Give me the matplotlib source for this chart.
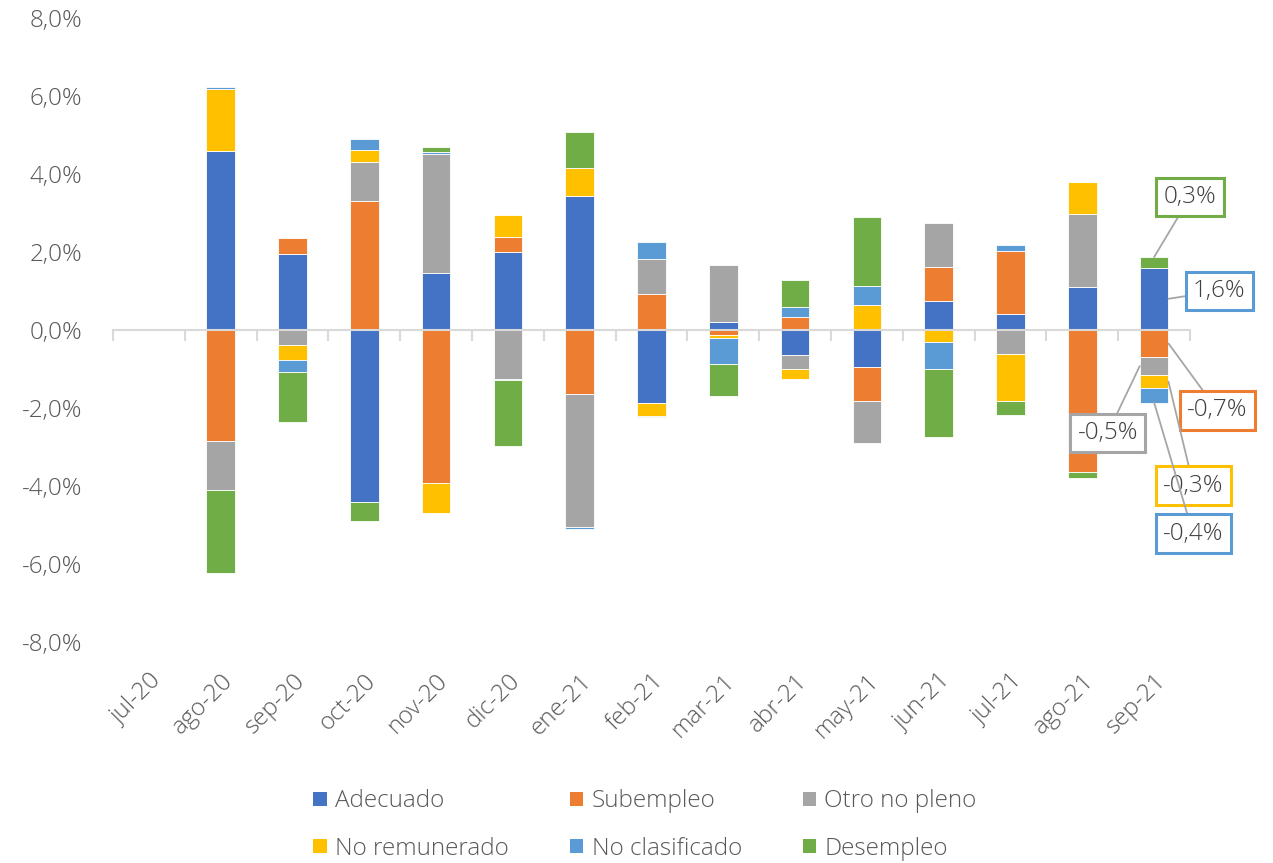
import matplotlib
matplotlib.use("Agg")
import matplotlib.pyplot as plt
import matplotlib.transforms as mtransforms
from matplotlib.patches import Patch
from matplotlib.ticker import FuncFormatter, FixedLocator
import numpy as np

# categories (months)
meses = ["jul-20", "ago-20", "sep-20", "oct-20", "nov-20", "dic-20", "ene-21",
         "feb-21", "mar-21", "abr-21", "may-21", "jun-21", "jul-21", "ago-21", "sep-21"]

# contributions in percentage points
adecuado = [0.00, 4.60, 1.94, -4.42, 1.45, 2.01, 3.44, -1.88, 0.20, -0.64, -0.95, 0.75, 0.41, 1.09, 1.60]
subempleo = [0.00, -2.85, 0.42, 3.30, -3.92, 0.38, -1.64, 0.92, -0.13, 0.34, -0.87, 0.86, 1.61, -3.65, -0.69]
otro_no_pleno = [0.00, -1.26, -0.38, 1.00, 3.05, -1.26, -3.42, 0.90, 1.47, -0.36, -1.07, 1.14, -0.62, 1.89, -0.47]
no_remunerado = [0.00, 1.57, -0.40, 0.31, -0.76, 0.55, 0.72, -0.32, -0.08, -0.26, 0.65, -0.30, -1.21, 0.82, -0.33]
no_clasificado = [0.00, 0.07, -0.30, 0.28, 0.06, -0.03, -0.04, 0.43, -0.67, 0.25, 0.48, -0.69, 0.15, 0.00, -0.37]
desempleo = [0.00, -2.13, -1.28, -0.48, 0.13, -1.69, 0.92, -0.04, -0.80, 0.68, 1.77, -1.75, -0.36, -0.15, 0.27]

series_names = ["Adecuado", "Subempleo", "Otro no pleno", "No remunerado", "No clasificado", "Desempleo"]
series_values = [adecuado, subempleo, otro_no_pleno, no_remunerado, no_clasificado, desempleo]
colores = ["#4472C4", "#ED7D31", "#A5A5A5", "#FFC000", "#5B9BD5", "#70AD47"]

# labelled month (last one) and offsets of its label boxes in pixels
# (series index, x side of the bar, y anchor, offset, box colour)
etiquetas = [
    (5, 0.0, "end", (36, 60), "#70AD47"),
    (0, 0.2, "mid", (51, 8), "#5B9BD5"),
    (1, 0.2, "mid", (49, -67), "#ED7D31"),
    (2, -0.2, "mid", (-32, -67), "#A5A5A5"),
    (3, 0.2, "mid", (25, -104), "#FFC000"),
    (4, 0.0, "end", (39, -131), "#5B9BD5"),
]

FONT = "Open Sans"
TEXT_GRAY = "#595959"


def pct(v):
    return f"{v:.1f}%".replace(".", ",")


def main():
    plt.rcParams["font.family"] = [FONT, "DejaVu Sans"]
    plt.rcParams["font.weight"] = 300

    fig = plt.figure(figsize=(12.73, 8.63), dpi=100)
    ax = fig.add_axes([113 / 1273, 1 - 642 / 863, 1077 / 1273, 624 / 863])

    x = np.arange(len(meses))
    pos_base = np.zeros(len(meses))
    neg_base = np.zeros(len(meses))
    bottoms = []

    # stacked bars: positives go up, negatives go down
    for vals, name, col in zip(series_values, series_names, colores):
        vals = np.array(vals)
        base = np.where(vals >= 0, pos_base, neg_base)
        ax.bar(x, vals, bottom=base, width=0.4, color=col, edgecolor="white",
               linewidth=0.6, label=name, zorder=1)
        bottoms.append(base)
        pos_base = pos_base + np.where(vals > 0, vals, 0)
        neg_base = neg_base + np.where(vals < 0, vals, 0)

    ax.set_xlim(-0.5, len(meses) - 0.5)
    ax.set_ylim(-8, 8)

    # y axis: labels only
    ax.set_yticks(np.arange(-8, 8.1, 2))
    ax.yaxis.set_major_formatter(FuncFormatter(lambda v, p: pct(v)))
    ax.tick_params(axis="y", length=0, pad=22, labelsize=17.5, labelcolor=TEXT_GRAY)
    for s in ["left", "right", "top"]:
        ax.spines[s].set_visible(False)

    # category axis crossing at zero with ticks between categories
    ax.spines["bottom"].set_position(("data", 0))
    ax.spines["bottom"].set_color("#D9D9D9")
    ax.spines["bottom"].set_linewidth(1.5)
    ax.xaxis.set_major_locator(FixedLocator(np.arange(-0.5, len(meses), 1.0)))
    ax.xaxis.set_major_formatter(FuncFormatter(lambda v, p: ""))
    ax.tick_params(axis="x", direction="out", length=8, width=1.5, color="#D9D9D9")

    # category labels at the bottom of the plot area
    offset = mtransforms.ScaledTranslation(0 / 100, -27 / 100, fig.dpi_scale_trans)
    trans = mtransforms.blended_transform_factory(ax.transData, ax.transAxes) + offset
    for i, m in enumerate(meses):
        ax.text(i, 0, m, transform=trans, rotation=45, ha="right", va="top",
                rotation_mode="anchor", fontsize=17.5, color=TEXT_GRAY)

    # data labels for the last month
    last = len(meses) - 1
    for idx, dx, where, off, ec in etiquetas:
        v = series_values[idx][last]
        b = bottoms[idx][last]
        yy = b + v if where == "end" else b + v / 2
        ax.annotate(pct(v), xy=(last + dx, yy), xytext=off, textcoords="offset pixels",
                    ha="center", va="center", fontsize=17.5, color="#404040",
                    bbox=dict(boxstyle="square,pad=0.3", fc="white", ec=ec, lw=2.2),
                    arrowprops=dict(arrowstyle="-", color="#A6A6A6", lw=1.3,
                                    shrinkA=0, shrinkB=0),
                    annotation_clip=False, zorder=5)

    # legend filled row by row (matplotlib fills columns first)
    orden = [0, 3, 1, 4, 2, 5]
    handles = [Patch(facecolor=colores[k], edgecolor="none") for k in orden]
    labels = [series_names[k] for k in orden]
    fig.legend(handles, labels, loc="center", bbox_to_anchor=(645 / 1273, 1 - 825 / 863),
               ncol=3, frameon=False, fontsize=17.5, labelcolor=TEXT_GRAY,
               handlelength=0.55, handleheight=0.55, handletextpad=0.35,
               columnspacing=2.5, labelspacing=0.95)

    fig.savefig("out.png", dpi=100)


if __name__ == "__main__":
    main()
